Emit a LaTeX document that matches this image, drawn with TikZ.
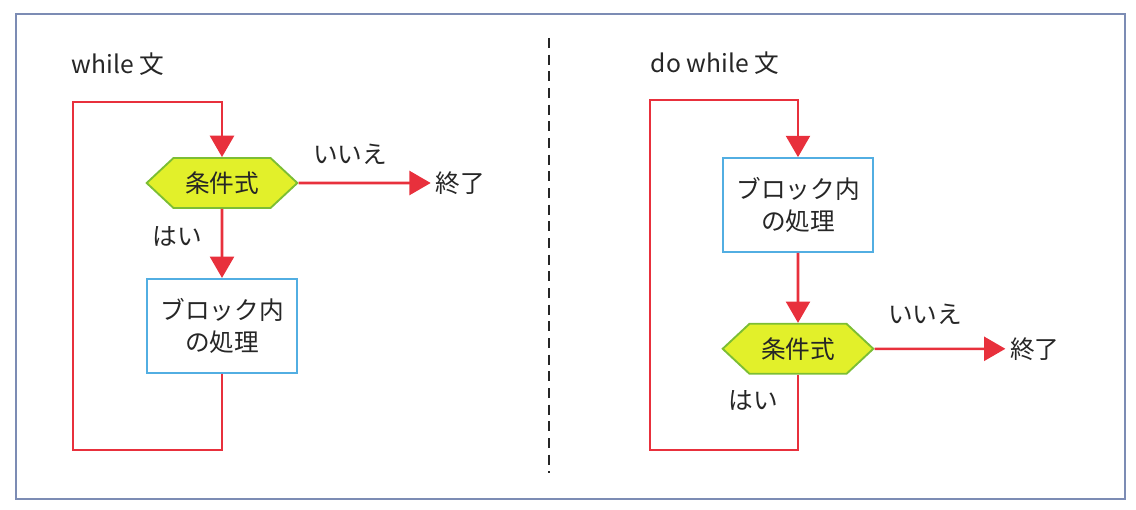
\documentclass[tikz,border=0pt]{standalone}
\usepackage{fontspec}
\setmainfont{Noto Sans CJK JP}
\usetikzlibrary{positioning}
\usetikzlibrary{shapes.symbols}
\usetikzlibrary{arrows.meta}
\definecolor{flowred}{HTML}{E8303C}
\definecolor{condfill}{HTML}{E2F02A}
\definecolor{condline}{HTML}{7CBE34}
\definecolor{blockline}{HTML}{52AEE2}
\definecolor{framecol}{HTML}{7C8CB4}
\definecolor{textcol}{HTML}{262626}
\tikzstyle{line} = [draw=flowred, line width=1.9pt, -{Triangle[width=18pt, length=16pt]}]

\begin{document}
\begin{tikzpicture}[x=0.75pt, y=-0.75pt,
				every node/.style={font=\fontsize{18.5}{24}\selectfont, text=textcol},
				cond/.style={signal, signal to=east and west, signal pointer angle=86, draw=condline, line width=1.4pt, fill=condfill, minimum width=113pt, minimum height=37.5pt, inner sep=0pt},
				block/.style={draw=blockline, line width=1.3pt, rectangle, minimum width=112.5pt, minimum height=70.5pt, align=center},
				every text node part/.style={align=center}]

				\useasboundingbox (0,0) rectangle (1136,510);
				\draw [framecol, line width=1.5pt] (16,14) rectangle (1125,499);
				\draw [black!85, line width=1.6pt, dash pattern=on 7.5pt off 5pt] (549,38) -- (549,473);

				% while
				\node (title1) at (118,64) {while 文};
				\node (cond1) at (222,183) [cond] {条件式};
				\node[below=51.75pt of cond1] (block1) [block] {ブロック内\\の処理};
				\node[right=99pt of cond1] (end1) {終了};
				\node (no1) at (350,154) {いいえ};
				\node (yes1) at (177,236) {はい};
				\coordinate (lb1) at (73,450);
				\coordinate (lt1) at (73,102);
				\draw [line] (cond1) -- (end1);
				\draw [line] (cond1) -- (block1);
				\draw [line] (block1.south) |- (lb1) -- (lt1) -| (cond1.north);

				% do while
				\node (title2) at (715,63) {do while 文};
				\node (block2) at (798,205) [block] {ブロック内\\の処理};
				\node[below=52.5pt of block2] (cond2) [cond] {条件式};
				\node[right=98pt of cond2] (end2) {終了};
				\node (no2) at (925,314) {いいえ};
				\node (yes2) at (753,400) {はい};
				\coordinate (lb2) at (650,450);
				\coordinate (lt2) at (650,100);
				\draw [line] (cond2) -- (end2);
				\draw [line] (block2) -- (cond2);
				\draw [line] (cond2.south) |- (lb2) -- (lt2) -| (block2.north);

			\end{tikzpicture}
\end{document}
